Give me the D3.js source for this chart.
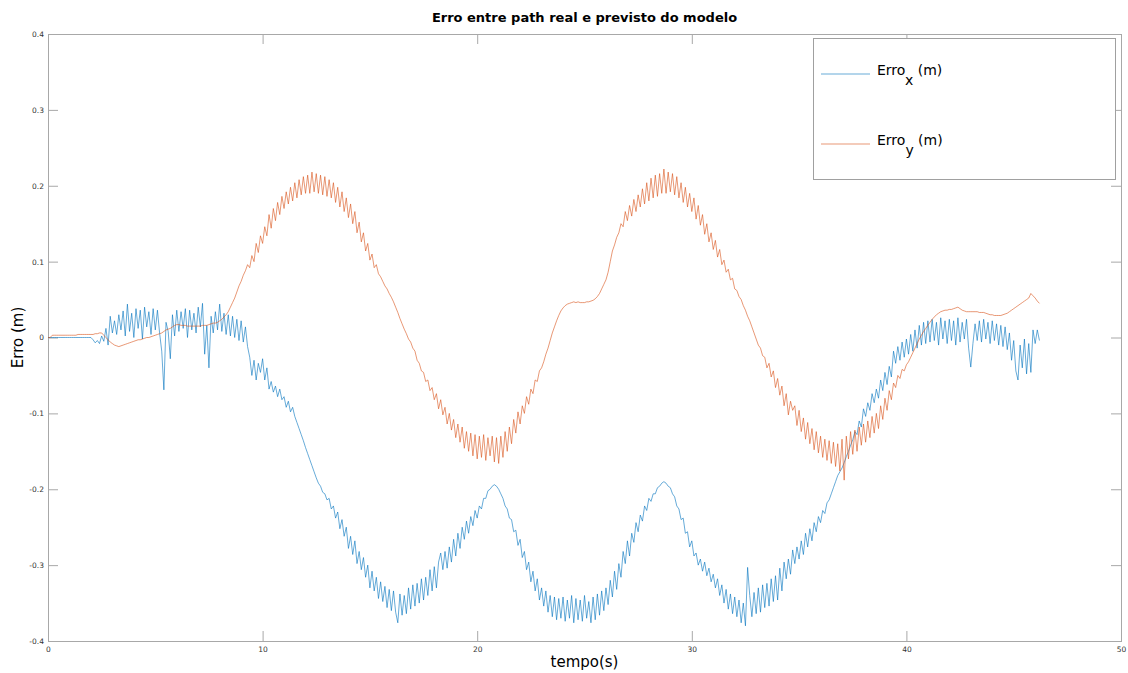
<!DOCTYPE html>
<html>
<head>
<meta charset="utf-8">
<script src="https://cdn.jsdelivr.net/npm/d3@7"></script>
<style>
  html, body { margin: 0; padding: 0; background: #ffffff; }
  svg { display: block; font-family: "DejaVu Sans", sans-serif; }
</style>
</head>
<body>
<svg id="chart" width="1128" height="673"></svg>
<script>
// Error samples, one every 0.1 s starting at t = 0, in millimetres.
const timeStart = 0;
const timeStep = 0.1;

const errXmm = [
  0,0,0,0,0,0,0,0,0,0,
  0,0,0,0,0,0,0,0,0,0,
  0,-3,-7,-4,-8,2,-5,12,-10,28,
  6,22,4,30,10,35,2,44,8,32,
  0,38,12,36,-2,40,14,34,4,38,
  10,36,6,-18,-69,20,8,-28,30,2,
  36,8,34,12,38,0,36,10,32,6,
  40,14,45,-22,16,-40,28,6,34,10,
  44,8,32,4,30,2,28,0,24,-4,
  22,-6,14,-12,-26,-50,-30,-56,-34,-46,
  -28,-56,-40,-68,-58,-72,-64,-78,-68,-82,
  -78,-92,-84,-98,-92,-104,-112,-120,-128,-136,
  -145,-153,-161,-169,-177,-185,-192,-196,-204,-206,
  -214,-212,-226,-222,-238,-230,-252,-240,-262,-250,
  -278,-262,-286,-268,-298,-282,-306,-290,-316,-300,
  -330,-308,-334,-316,-344,-322,-348,-328,-356,-332,
  -360,-334,-362,-376,-338,-366,-340,-364,-330,-358,
  -326,-354,-324,-350,-318,-346,-316,-340,-306,-334,
  -302,-330,-296,-284,-306,-282,-304,-276,-296,-266,
  -288,-258,-278,-250,-266,-242,-258,-236,-248,-228,
  -238,-222,-226,-212,-212,-202,-200,-196,-194,-196,
  -200,-206,-212,-222,-226,-238,-240,-256,-254,-274,
  -266,-290,-282,-306,-296,-322,-308,-334,-318,-346,
  -330,-354,-334,-362,-340,-368,-342,-372,-344,-370,
  -342,-374,-346,-370,-340,-376,-344,-372,-346,-374,
  -340,-370,-348,-376,-342,-372,-338,-366,-334,-360,
  -330,-352,-320,-342,-308,-332,-298,-316,-282,-298,
  -268,-288,-258,-270,-244,-256,-234,-242,-222,-228,
  -212,-216,-206,-206,-198,-196,-192,-190,-192,-196,
  -198,-206,-210,-222,-226,-240,-238,-258,-256,-276,
  -268,-288,-284,-300,-292,-308,-296,-314,-304,-322,
  -312,-330,-318,-340,-326,-350,-332,-358,-338,-364,
  -342,-368,-346,-376,-350,-380,-303,-340,-368,-336,
  -364,-330,-362,-326,-356,-324,-354,-318,-348,-314,
  -346,-304,-334,-296,-318,-292,-312,-280,-298,-276,
  -292,-268,-286,-258,-276,-252,-268,-244,-256,-236,
  -244,-228,-232,-218,-214,-206,-198,-190,-182,-177,
  -172,-165,-157,-150,-142,-135,-124,-128,-110,-118,
  -94,-104,-86,-96,-74,-86,-68,-80,-56,-70,
  -46,-62,-38,-52,-18,-34,-12,-30,-6,-26,
  -2,-22,4,-18,10,-14,16,-10,20,-8,
  22,-6,24,-4,20,-10,26,-2,22,-8,
  24,-4,22,-10,26,-6,20,-2,24,-14,
  -39,-8,18,-4,22,-6,24,-2,20,-8,
  22,-4,18,-10,16,-12,14,-16,6,-30,
  -4,-44,-56,-10,-40,-2,-48,-8,-46,10,
  -8,10,-4
];

const errYmm = [
  0,0,3,3,3,3,3,3,3,3,
  3,3,3,3,4,4,4,4,4,4,
  4,4,5,5,6,6,3,0,-3,-6,
  -8,-10,-11,-12,-11,-10,-9,-8,-7,-6,
  -5,-4,-3,-3,-2,-1,0,0,1,2,
  3,4,5,6,8,10,11,12,14,16,
  17,17,16,16,16,15,15,15,15,15,
  15,15,16,16,16,17,18,19,19,20,
  22,24,27,30,34,40,46,52,60,68,
  74,82,88,96,92,108,100,124,112,134,
  124,146,134,162,144,170,154,178,162,186,
  170,192,176,198,180,204,184,208,188,212,
  190,214,190,218,192,216,190,214,188,212,
  186,208,184,204,178,198,172,192,166,184,
  158,176,150,166,138,152,126,138,114,124,
  102,110,92,96,84,80,74,68,64,58,
  53,47,40,33,25,18,11,5,-2,-6,
  -14,-18,-30,-34,-44,-46,-58,-56,-70,-66,
  -82,-74,-94,-82,-102,-92,-114,-100,-122,-108,
  -132,-114,-138,-118,-146,-124,-150,-126,-156,-128,
  -160,-130,-158,-128,-162,-132,-156,-130,-164,-132,
  -166,-130,-158,-124,-150,-118,-140,-108,-126,-98,
  -114,-90,-100,-78,-88,-68,-74,-56,-58,-44,
  -40,-32,-22,-14,-4,6,14,22,29,35,
  39,42,44,45,46,47,46,47,46,46,
  46,47,47,48,49,51,54,58,64,70,
  76,86,100,114,122,132,138,150,146,166,
  154,174,160,182,166,188,172,196,176,204,
  180,210,184,214,186,216,190,222,190,218,
  192,216,188,212,184,204,178,198,172,190,
  166,184,156,174,148,162,136,150,126,138,
  116,128,106,116,96,102,86,90,76,78,
  64,62,54,50,42,36,28,22,14,6,
  -2,-10,-14,-24,-26,-40,-34,-52,-44,-66,
  -54,-76,-64,-90,-74,-102,-84,-96,-90,-116,
  -96,-124,-106,-134,-112,-140,-120,-148,-124,-152,
  -130,-158,-134,-162,-136,-166,-138,-170,-140,-176,
  -134,-188,-130,-160,-124,-154,-122,-150,-118,-142,
  -114,-138,-110,-132,-104,-126,-100,-120,-90,-108,
  -80,-96,-70,-82,-60,-66,-50,-54,-42,-44,
  -36,-32,-26,-20,-14,-8,-2,3,8,12,
  16,20,24,27,30,32,34,35,36,36,
  37,37,38,39,40,38,36,35,34,34,
  34,34,34,34,33,33,33,32,31,30,
  30,29,29,29,29,30,31,32,34,36,
  38,40,42,44,46,48,50,52,58,55,
  52,48,45
];

const xTicks = [0, 10, 20, 30, 40, 50];
const xTickLabels = ["0", "10", "20", "30", "40", "50"];
const yTicks = [-0.4, -0.3, -0.2, -0.1, 0, 0.1, 0.2, 0.3, 0.4];
const yTickLabels = ["-0.4", "-0.3", "-0.2", "-0.1", "0", "0.1", "0.2", "0.3", "0.4"];

const seriesNames = ["x", "y"];
const seriesColors = ["#0072bd", "#d95319"];

const titleText = "Erro entre path real e previsto do modelo";
const xLabelText = "tempo(s)";
const yLabelText = "Erro (m)";

// ---- layout ----
const svg = d3.select("#chart");
const plot = { left: 48, right: 1121, top: 34, bottom: 641 };
const axisColor = "#a8a8a8";
const tickTextColor = "#333333";

const x = d3.scaleLinear().domain([0, 50]).range([plot.left, plot.right]);
const y = d3.scaleLinear().domain([-0.4, 0.4]).range([plot.bottom, plot.top]);

// Ticks point inwards on all four sides
function styleAxis(g) {
  g.select(".domain").remove();
  g.selectAll(".tick line").attr("stroke", axisColor).attr("stroke-width", 1);
  g.selectAll(".tick text").attr("fill", tickTextColor).style("font-size", "7.5px")
    .style("font-family", "DejaVu Sans, sans-serif");
}

svg.append("g")
  .attr("transform", `translate(0,${plot.bottom})`)
  .call(d3.axisBottom(x).tickValues(xTicks)
    .tickFormat((d, i) => xTickLabels[i]).tickSizeInner(-10).tickSizeOuter(0).tickPadding(6))
  .call(styleAxis);

svg.append("g")
  .attr("transform", `translate(0,${plot.top})`)
  .call(d3.axisTop(x).tickValues(xTicks).tickFormat("").tickSizeInner(-10).tickSizeOuter(0))
  .call(styleAxis);

svg.append("g")
  .attr("transform", `translate(${plot.left},0)`)
  .call(d3.axisLeft(y).tickValues(yTicks)
    .tickFormat((d, i) => yTickLabels[i]).tickSizeInner(-10).tickSizeOuter(0).tickPadding(4))
  .call(styleAxis);

svg.append("g")
  .attr("transform", `translate(${plot.right},0)`)
  .call(d3.axisRight(y).tickValues(yTicks).tickFormat("").tickSizeInner(-10).tickSizeOuter(0))
  .call(styleAxis);

// Frame around the plotting area
svg.append("rect")
  .attr("x", plot.left + 0.5).attr("y", plot.top + 0.5)
  .attr("width", plot.right - plot.left).attr("height", plot.bottom - plot.top)
  .attr("fill", "none").attr("stroke", axisColor).attr("stroke-width", 1);

// ---- series ----
const series = [errXmm, errYmm].map(arr => arr.map((v, i) => ({
  t: timeStart + i * timeStep,
  v: v / 1000
})));

const line = d3.line().x(d => x(d.t)).y(d => y(d.v));

svg.append("g").selectAll("path")
  .data(series)
  .join("path")
  .attr("d", line)
  .attr("fill", "none")
  .attr("stroke", (d, i) => seriesColors[i])
  .attr("stroke-width", 0.6)
  .attr("stroke-linejoin", "miter");

// ---- texts ----
svg.append("text")
  .attr("x", (plot.left + plot.right) / 2).attr("y", 22)
  .attr("text-anchor", "middle")
  .style("font-size", "13px").style("font-weight", "bold")
  .attr("fill", "#000")
  .text(titleText);

svg.append("text")
  .attr("x", (plot.left + plot.right) / 2).attr("y", 667)
  .attr("text-anchor", "middle")
  .style("font-size", "15px")
  .attr("fill", "#000")
  .text(xLabelText);

svg.append("text")
  .attr("transform", `translate(23,${(plot.top + plot.bottom) / 2}) rotate(-90)`)
  .attr("text-anchor", "middle")
  .style("font-size", "15px")
  .attr("fill", "#000")
  .text(yLabelText);

// ---- legend ----
const legend = svg.append("g");
legend.append("rect")
  .attr("x", 813.5).attr("y", 38.5).attr("width", 302).attr("height", 141)
  .attr("fill", "#ffffff").attr("stroke", "#a0a0a0").attr("stroke-width", 1);

const legendRows = [74, 144];
seriesNames.forEach((name, i) => {
  const yy = legendRows[i];
  legend.append("line")
    .attr("x1", 821).attr("x2", 870).attr("y1", yy).attr("y2", yy)
    .attr("stroke", seriesColors[i]).attr("stroke-width", 0.6);
  const t = legend.append("text")
    .attr("x", 877).attr("y", yy + 1)
    .style("font-size", "14px").attr("fill", "#000");
  t.append("tspan").text("Erro");
  t.append("tspan").attr("dy", 10).text(name);
  t.append("tspan").attr("dy", -10).text("\u00a0(m)");
});
</script>
</body>
</html>
